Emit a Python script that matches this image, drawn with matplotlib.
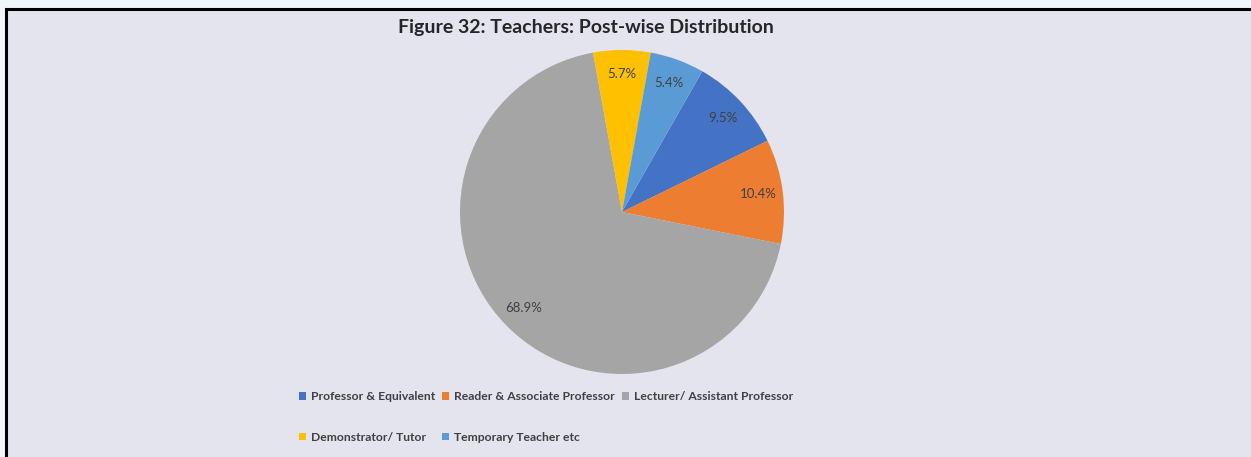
import matplotlib.pyplot as plt
from matplotlib.patches import Rectangle, Patch

# data
posts = ["Professor & Equivalent", "Reader & Associate Professor",
         "Lecturer/ Assistant Professor", "Demonstrator/ Tutor",
         "Temporary Teacher etc"]
shares = [9.5, 10.4, 68.9, 5.7, 5.4]
colors = ["#4472C4", "#ED7D31", "#A5A5A5", "#FFC000", "#5B9BD5"]

W, H = 1251, 457
fig = plt.figure(figsize=(W / 100, H / 100), dpi=100, facecolor="#F0F5FB")
plt.rcParams['font.family'] = ['Lato', 'DejaVu Sans']

# chart area with black frame on top/left
fig.patches.append(Rectangle((6 / W, -0.05), 1.1, 1 - 9 / H + 0.05,
                             transform=fig.transFigure, facecolor="#E4E4EE",
                             edgecolor="black", lw=2.2, zorder=-5))

cx, cy, r = 622, 212, 162
ax = fig.add_axes([(cx - r) / W, (H - cy - r) / H, 2 * r / W, 2 * r / H])
ax.set_facecolor("none")
ax.set_zorder(2)
total = sum(shares)  # 99.9, keep the printed values as shown
wedges, texts, autotexts = ax.pie(
    shares, colors=colors, startangle=60.3, counterclock=False,
    autopct=lambda p: f"{p * total / 100:.1f}%", pctdistance=0.85, radius=1,
    wedgeprops=dict(linewidth=0), textprops=dict(color="#404040", fontsize=9.5))
ax.set_xlim(-1, 1)
ax.set_ylim(-1, 1)
ax.set_aspect("equal")
ax.axis("off")

fig.text(586 / W, 1 - 28 / H, "Figure 32: Teachers: Post-wise Distribution",
         ha="center", va="center", fontsize=14, fontweight="bold", color="#262626")

# legend, row-major order over 3 columns
handles = [Patch(facecolor=c, edgecolor="none") for c in colors]
order = [0, 3, 1, 4, 2]
leg = fig.legend([handles[i] for i in order], [posts[i] for i in order],
                 ncol=3, loc="upper left", bbox_to_anchor=(293 / W, 1 - 385 / H),
                 frameon=False, handlelength=0.6, handleheight=0.6, handletextpad=0.4,
                 columnspacing=0.55, labelspacing=2.45, borderpad=0,
                 prop=dict(size=8.7, weight="bold"), labelcolor="#404040")

fig.savefig("out.png", dpi=100, facecolor=fig.get_facecolor())
